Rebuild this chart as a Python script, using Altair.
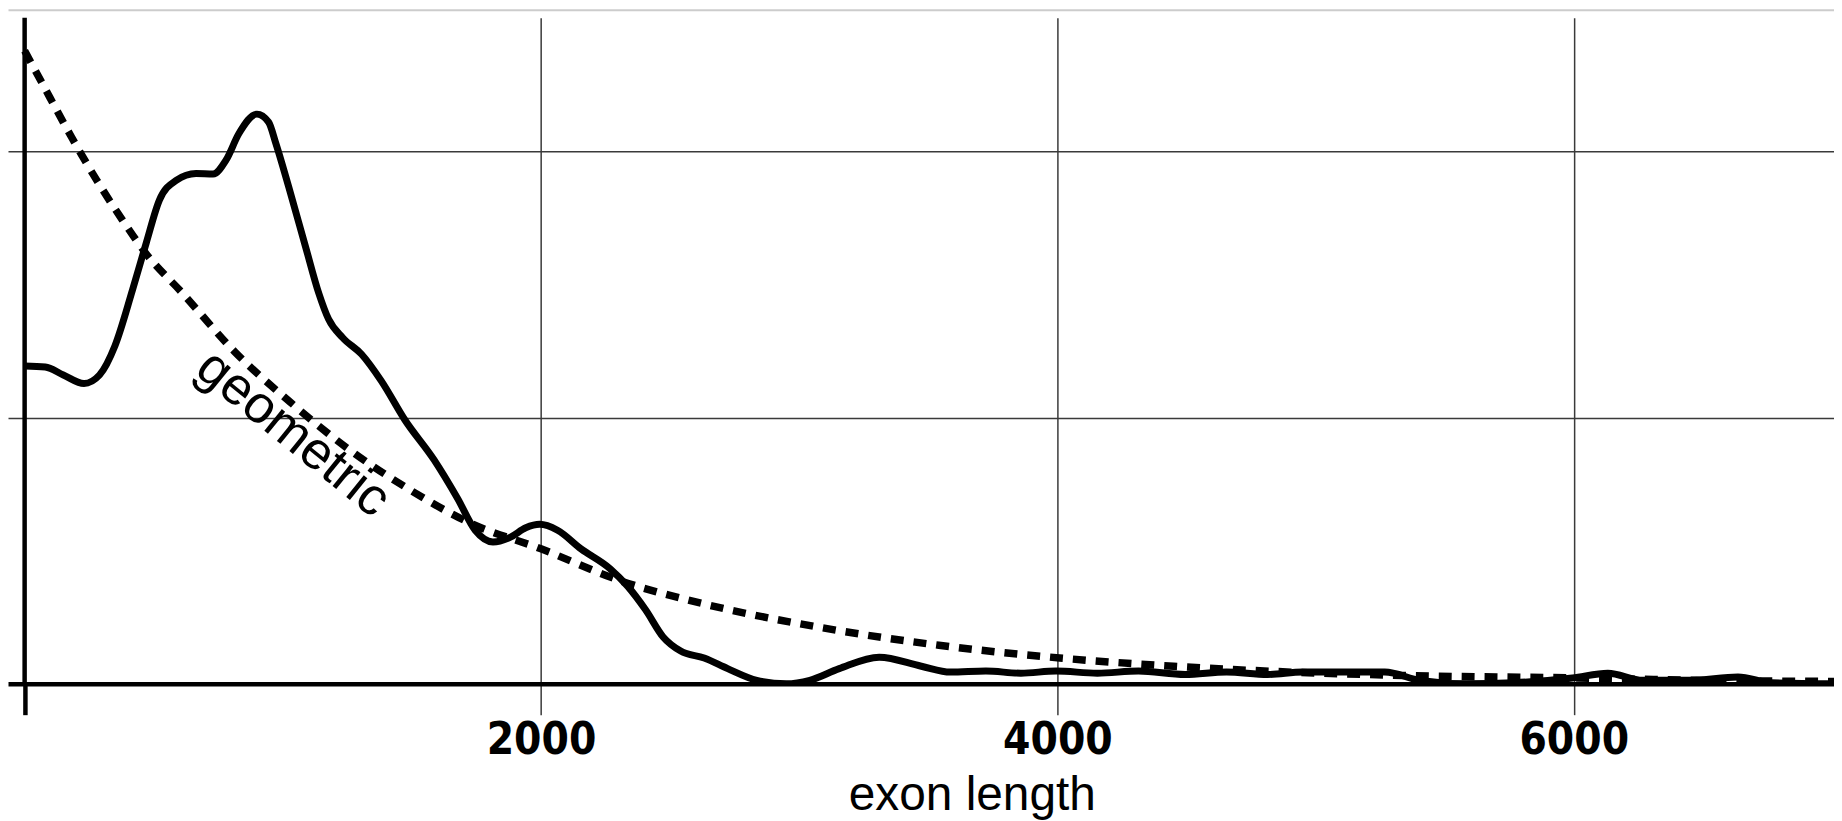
import altair as alt
import pandas as pd

emp_x = [0, 80, 150, 230, 290, 350, 418, 471, 522, 587, 664, 730, 780, 830, 900, 945,
         973, 1023, 1088, 1139, 1177, 1232, 1305, 1382, 1473, 1586, 1677, 1745, 1814,
         1882, 1941, 1995, 2064, 2155, 2268, 2336, 2405, 2473, 2541, 2632, 2723, 2836,
         2950, 3041, 3155, 3310, 3473, 3586, 3723, 3859, 3995, 4155, 4314, 4495,
         4655, 4814, 4950, 5132, 5268, 5405, 5586, 5768, 5995, 6132, 6268, 6450, 6636,
         6768, 7032]
emp_y = [1.194, 1.19, 1.16, 1.128, 1.16, 1.27, 1.48, 1.656, 1.817, 1.891, 1.917, 1.915,
         1.967, 2.067, 2.14, 2.11, 2.03, 1.866, 1.642, 1.468, 1.37, 1.30, 1.238, 1.137,
         0.991, 0.841, 0.696, 0.577, 0.533, 0.551, 0.586, 0.599, 0.577, 0.507, 0.432,
         0.366, 0.278, 0.176, 0.123, 0.097, 0.057, 0.013, 0.0, 0.013, 0.057, 0.1,
         0.066, 0.044, 0.048, 0.040, 0.048, 0.040, 0.048, 0.035, 0.044, 0.035, 0.044,
         0.044, 0.044, 0.013, 0.0, 0.004, 0.022, 0.040, 0.013, 0.013, 0.026, 0.004, 0.0]

# geometric fit (dashed)
geo_x = [0, 98, 182, 279, 379, 475, 607, 814, 1041, 1268, 1495, 1723, 2000, 2314, 2632,
         3086, 3541, 4009, 4450, 4905, 5359, 6014, 6495, 7032]
geo_y = [2.378, 2.202, 2.053, 1.892, 1.742, 1.61, 1.472, 1.247, 1.048, 0.872, 0.727,
         0.605, 0.507, 0.385, 0.300, 0.211, 0.145, 0.097, 0.066, 0.044, 0.031, 0.022,
         0.013, 0.009]

x_ticks = [0, 2000, 4000, 6000]
y_grid = [1, 2]
x_title = "exon length"
curve_label = "geometric"
label_pos = {"x": [1040], "y": [0.94], "label": [curve_label]}

X_MIN, X_MAX = -64.4, 7008
Y_MIN, Y_MAX = 0, 2.502

emp = pd.DataFrame({"x": emp_x, "y": emp_y})
geo = pd.DataFrame({"x": geo_x, "y": geo_y})
lab = pd.DataFrame(label_pos)
yaxis_df = pd.DataFrame({"x": [0], "y": [Y_MIN], "y2": [Y_MAX]})

GRID = "#3a3a3a"

x_axis = alt.Axis(
    values=x_ticks, format="d",
    title=x_title,
    domain=True, domainColor="black", domainWidth=4.5,
    ticks=True, tickSize=31,
    tickColor={"condition": {"test": "datum.value === 0", "value": "black"}, "value": GRID},
    tickWidth={"condition": {"test": "datum.value === 0", "value": 4.5}, "value": 1.5},
    grid=True, gridColor=GRID, gridWidth=1.5,
    gridOpacity={"condition": {"test": "datum.value === 0", "value": 0}, "value": 1},
    labelExpr="datum.value === 0 ? '' : datum.label",
    labelFont="DejaVu Sans Condensed, DejaVu Sans", labelFontWeight="bold",
    labelFontSize=44, labelColor="black", labelBaseline="alphabetic",
    labelPadding=39, labelFlush=False,
    titleFont="Liberation Sans, Arial", titleFontWeight="normal", titleFontSize=48,
    titleColor="black", titleX=968, titleY=126, titleBaseline="alphabetic",
    titleAnchor="start", titleAlign="center",
)
top_axis = alt.Axis(orient="top", domain=True, domainColor="#cccccc", domainWidth=2,
                    offset=8, ticks=False, labels=False, grid=False, title=None)
y_axis = alt.Axis(values=y_grid, title=None, domain=False, ticks=False, labels=False,
                  grid=True, gridColor=GRID, gridWidth=1.5)

xs = alt.Scale(domain=[X_MIN, X_MAX], nice=False, zero=False)
ys = alt.Scale(domain=[Y_MIN, Y_MAX], nice=False, zero=False)

y_enc = alt.Y("y:Q", scale=ys, axis=y_axis)

solid = alt.Chart(emp).mark_line(color="black", strokeWidth=7, interpolate="monotone",
                                 clip=True).encode(
    x=alt.X("x:Q", scale=xs, axis=x_axis), y=y_enc)
dashed = alt.Chart(geo).mark_line(color="black", strokeWidth=7.5, strokeDash=[13, 10],
                                  interpolate="monotone", clip=True).encode(
    x=alt.X("x:Q", scale=xs, axis=None), y=y_enc)
yline = alt.Chart(yaxis_df).mark_rule(color="black", strokeWidth=4.5).encode(
    x=alt.X("x:Q", scale=xs, axis=None), y=y_enc, y2="y2:Q")
text = alt.Chart(lab).mark_text(font="Liberation Sans, Arial", fontSize=53, angle=39,
                                color="black", align="center", baseline="middle").encode(
    x=alt.X("x:Q", scale=xs, axis=top_axis), y=y_enc, text="label:N")

chart = alt.layer(yline, dashed, solid, text).resolve_axis(x="independent").properties(
    width=1834, height=669, padding=0, background="white"
).configure_view(stroke=None)

chart.save("out.html", embed_options={"renderer": "svg", "actions": False})
